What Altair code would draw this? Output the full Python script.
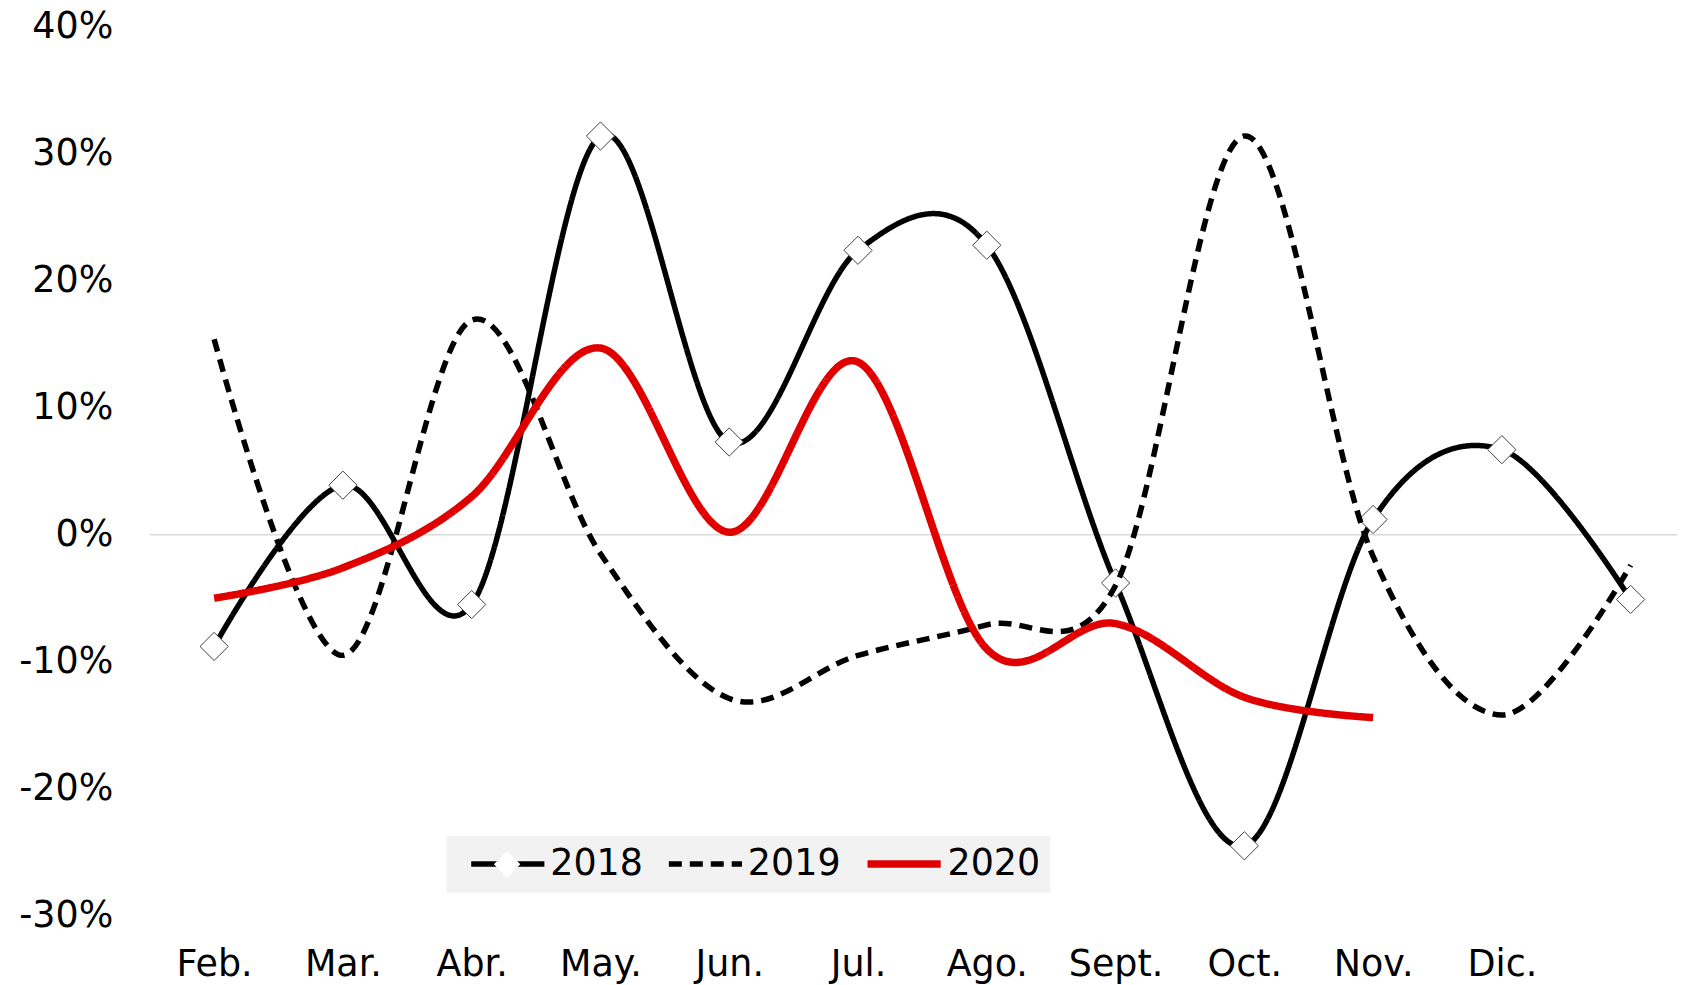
import altair as alt
import pandas as pd

# ---- data ----
months = ["Feb.", "Mar.", "Abr.", "May.", "Jun.", "Jul.", "Ago.", "Sept.", "Oct.", "Nov.", "Dic.", ""]
years = ["2018", "2019", "2020"]
v2018 = [-8.8, 3.9, -5.5, 31.4, 7.3, 22.4, 22.8, -3.8, -24.5, 1.2, 6.7, -5.1]
v2019 = [15.4, -9.5, 16.9, -1.5, -12.9, -9.5, -7.1, -4.0, 31.4, -1.7, -14.2, -2.4]
v2020 = [-5.0, -2.6, 3.0, 14.7, 0.2, 13.6, -9.0, -7.0, -12.8, -14.4]
y_ticks = [-0.3, -0.2, -0.1, 0.0, 0.1, 0.2, 0.3, 0.4]

rows = []
for yr, vals in zip(years, [v2018, v2019, v2020]):
    for i, v in enumerate(vals):
        rows.append({"i": i, "year": yr, "v": v / 100.0})
df = pd.DataFrame(rows)
df18 = df[df["year"] == "2018"].assign(marker="2018")
zero = pd.DataFrame({"z": [0.0]})

FONT = "DejaVu Sans"
label_expr = "[" + ",".join("'%s'" % m for m in months) + "][datum.value]"

X = alt.X(
    "i:Q",
    scale=alt.Scale(domain=[-0.5, 11.36], nice=False, zero=False),
    axis=alt.Axis(
        values=list(range(len(months))), labelExpr=label_expr, title=None,
        grid=False, domain=False, ticks=False, labelFlush=False,
        labelFont=FONT, labelFontSize=36.5, labelColor="#000000",
        labelBaseline="alphabetic", labelPadding=60, labelOverlap=False,
    ),
)
Y = alt.Y(
    "v:Q",
    scale=alt.Scale(domain=[-0.3, 0.4], nice=False, zero=False),
    axis=alt.Axis(
        values=y_ticks, title=None, grid=False, domain=False, ticks=False,
        labelExpr="(datum.value < -0.0001 ? '-' : '') + format(abs(datum.value), '.0%')",
        labelFont=FONT, labelFontSize=36.5, labelColor="#000000",
        labelPadding=37, minExtent=141.5, maxExtent=141.5, labelFlush=False,
    ),
)

leg = alt.Legend(
    title=" ", titleOrient="left", titleFontSize=1, titlePadding=12,
    orient="none", legendX=297.2, legendY=810.4, direction="horizontal",
    fillColor="#f2f2f2", padding=10, symbolType="stroke", symbolSize=5373,
    clipHeight=36.5,
    labelFont=FONT, labelFontSize=36.5, labelColor="#000000", labelOffset=3,
    columnPadding=23,
)

color = alt.Color("year:N", scale=alt.Scale(domain=years, range=["#000000", "#000000", "#e00000"]), legend=leg)
dash = alt.StrokeDash("year:N", scale=alt.Scale(domain=years, range=[[1, 0], [13, 8], [1, 0]]), legend=leg)
width = alt.StrokeWidth("year:N", scale=alt.Scale(type="ordinal", domain=years, range=[5.5, 5.5, 7.5]), legend=leg)

base = alt.Chart(df)

zero_line = alt.Chart(zero).mark_rule(color="#d9d9d9", strokeWidth=1.5).encode(y=alt.Y("z:Q"))

line18 = base.transform_filter("datum.year === '2018'").mark_line(
    interpolate="cardinal", strokeCap="butt", strokeJoin="round"
).encode(x=X, y=Y, color=color, strokeDash=dash, strokeWidth=width, order="i:Q")

points = alt.Chart(df18).mark_point(
    filled=True, fill="#ffffff", stroke="#404040", strokeWidth=1, size=800, opacity=1
).encode(
    x=X, y=Y,
    shape=alt.Shape(
        "marker:N",
        scale=alt.Scale(domain=["2018"], range=["diamond"]),
        legend=alt.Legend(
            title=None, orient="none", legendX=344, legendY=825, padding=0,
            labelExpr="''", labelFontSize=1, labelOffset=0, symbolSize=700,
            symbolFillColor="#ffffff", symbolStrokeColor="#404040", symbolStrokeWidth=1,
            symbolOpacity=1,
        ),
    ),
)

line_rest = base.transform_filter("datum.year !== '2018'").mark_line(
    interpolate="cardinal", strokeCap="butt", strokeJoin="round"
).encode(x=X, y=Y, color=color, strokeDash=dash, strokeWidth=width, order="i:Q")

chart = alt.layer(zero_line, line18, points, line_rest).properties(
    width=1530, height=890.4,
    padding={"left": 0, "top": 0, "right": 0, "bottom": 0},
).configure(background="#ffffff").configure_view(stroke=None)

chart.save("out.html", embed_options={"renderer": "svg", "actions": False})
